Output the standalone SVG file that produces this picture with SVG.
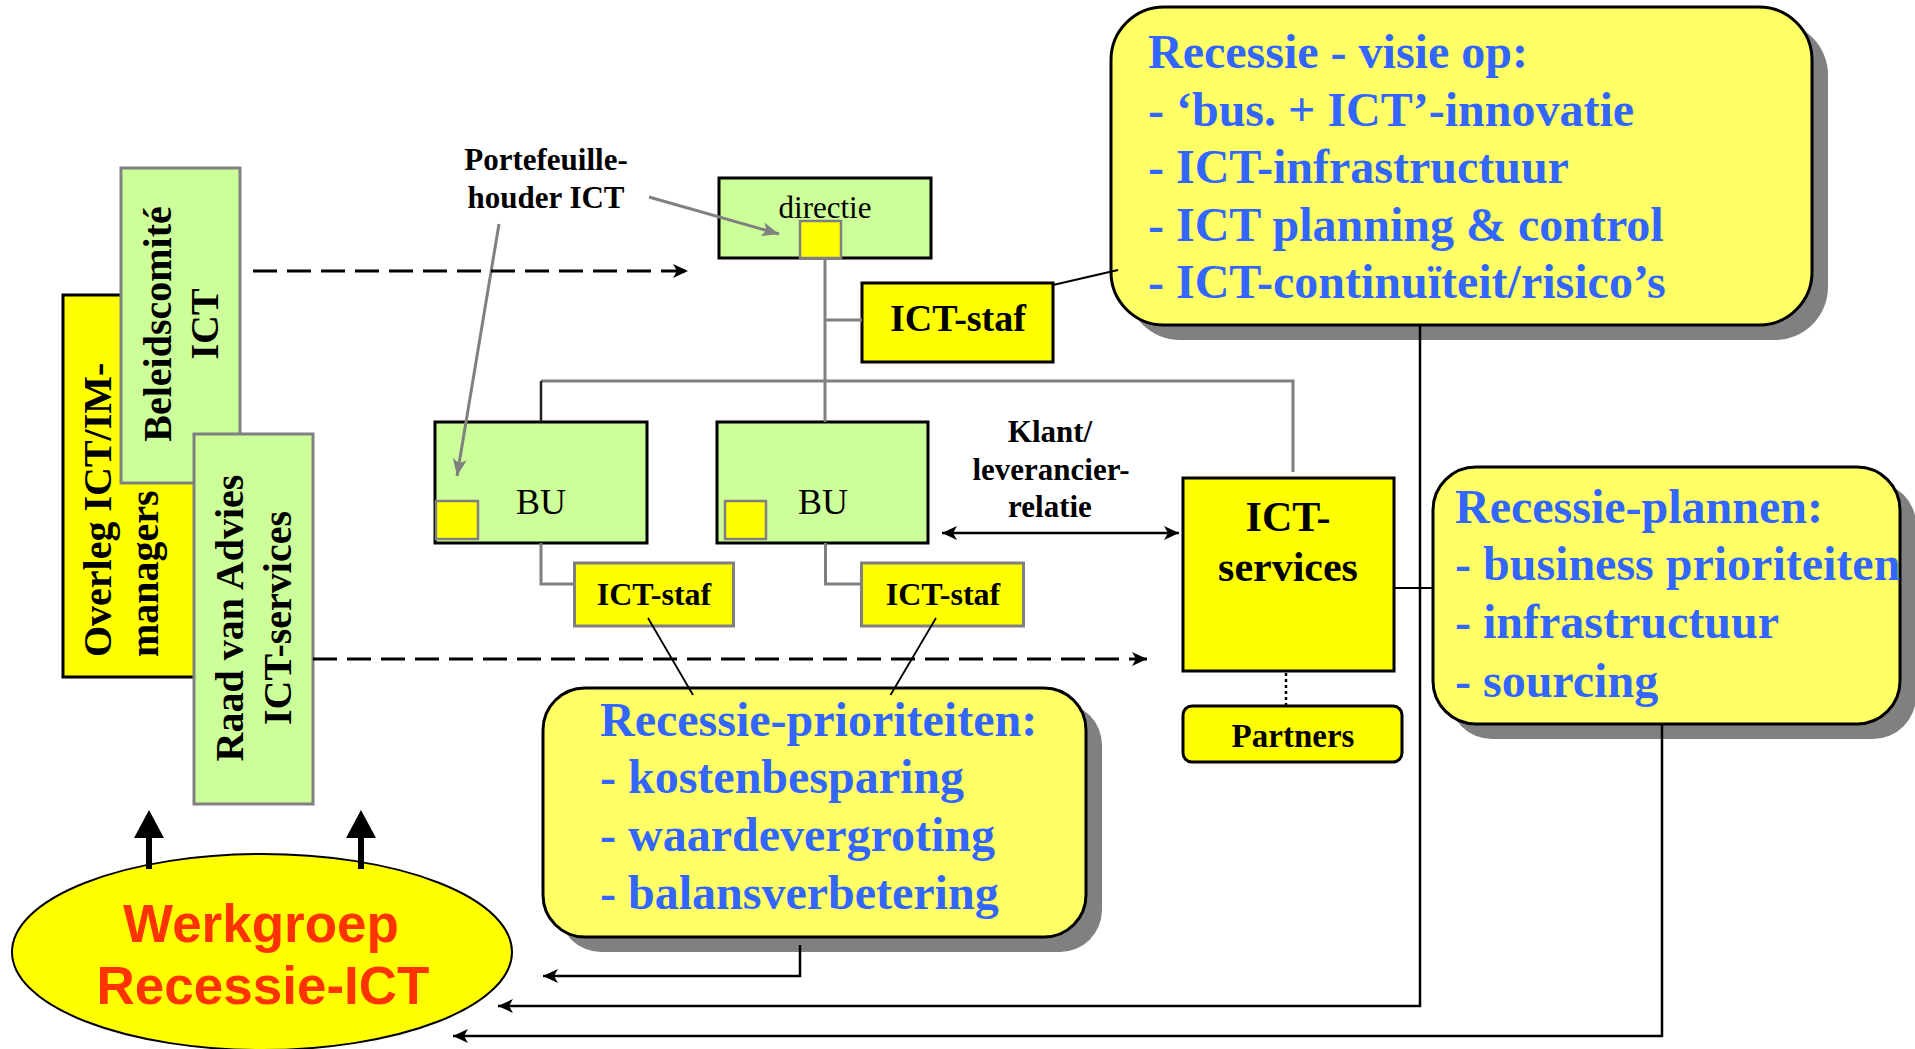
<svg xmlns="http://www.w3.org/2000/svg" width="1915" height="1049" viewBox="0 0 1915 1049">
  <defs>
    <!-- barbed arrowheads -->
    <marker id="ahBlack" markerUnits="userSpaceOnUse" markerWidth="16" markerHeight="14" refX="15" refY="7" orient="auto-start-reverse">
      <path d="M0,0 L15,7 L0,14 L4,7 z" fill="#000"/>
    </marker>
    <marker id="ahGray" markerUnits="userSpaceOnUse" markerWidth="18" markerHeight="14" refX="17" refY="7" orient="auto">
      <path d="M0,0 L17,7 L0,14 L4,7 z" fill="#808080"/>
    </marker>
  </defs>
  <style>
    .bold { font-family: "Liberation Serif", "Times New Roman", serif; font-weight: bold; fill: #000; }
    .reg { font-family: "Liberation Serif", "Times New Roman", serif; font-weight: normal; fill: #000; }
    .blue { font-family: "Liberation Serif", "Times New Roman", serif; font-weight: bold; fill: #3366ff; font-size: 48px; }
    .green { fill: #ccff99; }
    .yellow { fill: #ffff00; }
    .callout { fill: #ffff66; stroke: #000; stroke-width: 3; }
    .shadow { fill: #808080; }
    .blk { stroke: #000; stroke-width: 3; }
    .gry { stroke: #808080; stroke-width: 3; }
    .org { fill: none; stroke: #808080; stroke-width: 3; }
    .fb { fill: none; stroke: #000; stroke-width: 2.5; }
  </style>

  <rect width="1915" height="1049" fill="#fff"/>

  <!-- consultative bodies on the left -->
  <g id="overleg">
    <rect x="63" y="295" width="140" height="382" class="yellow blk"/>
    <text class="bold" font-size="40" transform="translate(111,657) rotate(-90)">Overleg ICT/IM-</text>
    <text class="bold" font-size="40" transform="translate(158,657) rotate(-90)">managers</text>
  </g>
  <g id="beleidscomite">
    <rect x="121" y="168" width="119" height="315" class="green gry"/>
    <text class="bold" font-size="40" text-anchor="middle" transform="translate(171,324) rotate(-90)">Beleidscomité</text>
    <text class="bold" font-size="40" text-anchor="middle" transform="translate(218,324) rotate(-90)">ICT</text>
  </g>
  <g id="raad-van-advies">
    <rect x="194" y="434" width="119" height="370" class="green gry"/>
    <text class="bold" font-size="40" text-anchor="middle" transform="translate(243,618) rotate(-90)">Raad van Advies</text>
    <text class="bold" font-size="40" text-anchor="middle" transform="translate(291,618) rotate(-90)">ICT-services</text>
  </g>

  <!-- organisation chart -->
  <g id="portefeuillehouder">
    <text class="bold" font-size="31" text-anchor="middle" x="546" y="170">Portefeuille-</text>
    <text class="bold" font-size="31" text-anchor="middle" x="546" y="208">houder ICT</text>
  </g>
  <g id="directie">
    <rect x="719" y="178" width="212" height="80" class="green blk"/>
    <text class="reg" font-size="31" text-anchor="middle" x="825" y="218">directie</text>
    <rect x="800" y="221" width="41" height="37" class="yellow" stroke="#808080" stroke-width="2.5"/>
  </g>
  <g id="ict-staf-centraal">
    <rect x="862" y="283" width="191" height="79" class="yellow blk"/>
    <text class="bold" font-size="38" text-anchor="middle" x="958" y="331">ICT-staf</text>
  </g>
  <g id="bu-1">
    <rect x="435" y="422" width="212" height="121" class="green blk"/>
    <rect x="436" y="501" width="42" height="38" class="yellow" stroke="#808080" stroke-width="2.5"/>
    <text class="reg" font-size="36" text-anchor="middle" x="541" y="514">BU</text>
  </g>
  <g id="bu-2">
    <rect x="717" y="422" width="211" height="121" class="green blk"/>
    <rect x="725" y="501" width="41" height="38" class="yellow" stroke="#808080" stroke-width="2.5"/>
    <text class="reg" font-size="36" text-anchor="middle" x="823" y="514">BU</text>
  </g>
  <g id="ict-staf-bu-1">
    <rect x="574.5" y="563" width="159" height="63" class="yellow gry"/>
    <text class="bold" font-size="32" text-anchor="middle" x="654" y="605">ICT-staf</text>
  </g>
  <g id="ict-staf-bu-2">
    <rect x="861.5" y="563" width="162" height="63" class="yellow gry"/>
    <text class="bold" font-size="32" text-anchor="middle" x="943" y="605">ICT-staf</text>
  </g>
  <g id="klant-leverancier">
    <text class="bold" font-size="31" text-anchor="middle" x="1050" y="442">Klant/</text>
    <text class="bold" font-size="31" text-anchor="middle" x="1051" y="480">leverancier-</text>
    <text class="bold" font-size="31" text-anchor="middle" x="1050" y="517">relatie</text>
  </g>
  <g id="ict-services">
    <rect x="1183" y="478" width="211" height="193" class="yellow blk"/>
    <text class="bold" font-size="42" text-anchor="middle" x="1288" y="531">ICT-</text>
    <text class="bold" font-size="42" text-anchor="middle" x="1288" y="581">services</text>
  </g>
  <g id="partners">
    <rect x="1183" y="706" width="219" height="56" rx="9" class="yellow blk"/>
    <text class="bold" font-size="33" text-anchor="middle" x="1293" y="747">Partners</text>
  </g>

  <!-- callouts -->
  <g id="recessie-visie">
    <rect x="1127" y="22" width="701" height="318" rx="53" class="shadow"/>
    <rect x="1111" y="7" width="701" height="318" rx="53" class="callout"/>
    <text class="blue" x="1148" y="68">Recessie - visie op:</text>
    <text class="blue" x="1148" y="126">- ‘bus. + ICT’-innovatie</text>
    <text class="blue" x="1148" y="183">- ICT-infrastructuur</text>
    <text class="blue" x="1148" y="241">- ICT planning &amp; control</text>
    <text class="blue" x="1148" y="298">- ICT-continuïteit/risico’s</text>
  </g>
  <g id="recessie-plannen">
    <rect x="1449" y="482" width="467" height="257" rx="43" class="shadow"/>
    <rect x="1433" y="467" width="467" height="257" rx="43" class="callout"/>
    <text class="blue" x="1455" y="523">Recessie-plannen:</text>
    <text class="blue" x="1455" y="580">- business prioriteiten</text>
    <text class="blue" x="1455" y="638">- infrastructuur</text>
    <text class="blue" x="1455" y="697">- sourcing</text>
  </g>
  <g id="recessie-prioriteiten">
    <rect x="559" y="703" width="543" height="249" rx="42" class="shadow"/>
    <rect x="543" y="688" width="543" height="249" rx="42" class="callout"/>
    <text class="blue" x="600" y="736">Recessie-prioriteiten:</text>
    <text class="blue" x="600" y="793">- kostenbesparing</text>
    <text class="blue" x="600" y="851">- waardevergroting</text>
    <text class="blue" x="600" y="909">- balansverbetering</text>
  </g>

  <!-- working group -->
  <g id="werkgroep">
    <ellipse cx="262" cy="952" rx="250" ry="98" fill="#ffff00" stroke="#000" stroke-width="2"/>
    <text font-family="Liberation Sans, Arial, sans-serif" font-weight="bold" font-size="53" fill="#ff3300" text-anchor="middle" x="261" y="942">Werkgroep</text>
    <text font-family="Liberation Sans, Arial, sans-serif" font-weight="bold" font-size="53" fill="#ff3300" text-anchor="middle" x="263" y="1004">Recessie-ICT</text>
  </g>

  <g id="connectors">
    <!-- hierarchy lines -->
    <path class="org" d="M825,258 V422 M825,320 H862 M541,381 H1293 V472"/>
    <path fill="none" stroke="#222" stroke-width="2.5" d="M541,381 V422"/>
    <path class="org" d="M541,543 V584 H574.5 M825.5,543 V584 H861.5"/>
    <!-- portfolio holder pointers -->
    <line x1="649" y1="197" x2="779" y2="234" stroke="#808080" stroke-width="3" marker-end="url(#ahGray)"/>
    <line x1="499" y1="224" x2="457" y2="476" stroke="#808080" stroke-width="3" marker-end="url(#ahGray)"/>
    <!-- dashed advice flows -->
    <line x1="253" y1="271" x2="688" y2="271" stroke="#000" stroke-width="3" stroke-dasharray="24 10" marker-end="url(#ahBlack)"/>
    <line x1="313" y1="659" x2="1147" y2="659" stroke="#000" stroke-width="3" stroke-dasharray="24 10" marker-end="url(#ahBlack)"/>
    <!-- customer / supplier relation -->
    <line x1="942" y1="533" x2="1179" y2="533" stroke="#000" stroke-width="2.5" marker-start="url(#ahBlack)" marker-end="url(#ahBlack)"/>
    <!-- callout leaders -->
    <line x1="1053" y1="285" x2="1118" y2="270" stroke="#000" stroke-width="2"/>
    <line x1="648" y1="618" x2="693" y2="695" stroke="#000" stroke-width="1.8"/>
    <line x1="936" y1="618" x2="890.5" y2="695" stroke="#000" stroke-width="1.8"/>
    <line x1="1394" y1="588" x2="1433" y2="588" stroke="#000" stroke-width="2"/>
    <line x1="1286" y1="673" x2="1286" y2="706" stroke="#000" stroke-width="2.5" stroke-dasharray="3 3"/>
    <!-- feedback to the working group -->
    <path class="fb" d="M800,945 V976 H543" stroke-width="2" marker-end="url(#ahBlack)"/>
    <path class="fb" d="M1420,325 V1006 H498" marker-end="url(#ahBlack)"/>
    <path class="fb" d="M1662,724 V1036 H453" marker-end="url(#ahBlack)"/>
    <!-- working group feeds the councils -->
    <path d="M146,869 V838 H134 L149,810 L164,838 H152 V869 z" fill="#000"/>
    <path d="M358,869 V838 H346 L361,810 L376,838 H364 V869 z" fill="#000"/>
  </g>
</svg>
